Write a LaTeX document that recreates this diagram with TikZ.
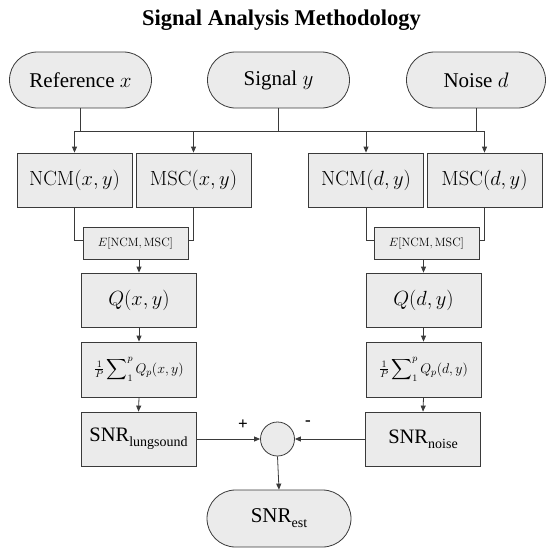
\RequirePackage{fix-cm}
\documentclass[tikz,border=0pt]{standalone}
\usepackage{exscale}
\usepackage[no-math]{fontspec}
\setmainfont{Liberation Serif}
\newfontfamily\tnr{Liberation Serif}
\newcommand{\lowsub}[1]{\raisebox{-5pt}{\fontsize{14}{16}\selectfont #1}}
\usetikzlibrary{shapes.misc,arrows.meta}
\definecolor{boxfill}{HTML}{EBEBEB}
\definecolor{linec}{HTML}{3A3A3A}
\begin{document}
\begin{tikzpicture}[x=1pt,y=-1pt,
  box/.style={draw=linec, fill=boxfill, line width=0.8pt, rectangle,
    minimum width=115pt, minimum height=54pt, inner sep=0pt,
    font=\fontsize{20.5}{24}\selectfont},
  ebox/.style={draw=linec, fill=boxfill, line width=0.8pt, rectangle,
    minimum width=105pt, minimum height=32pt, inner sep=0pt,
    font=\fontsize{12}{14}\selectfont},
  sumbox/.style={box, minimum height=55pt, font=\fontsize{14}{16}\selectfont},
  snrbox/.style={box, font=\tnr\fontsize{20.5}{24}\selectfont},
  pill/.style={draw=linec, fill=boxfill, line width=0.8pt, rounded rectangle,
    minimum width=142pt, minimum height=56pt, inner sep=0pt,
    font=\tnr\fontsize{21}{25}\selectfont},
  conn/.style={draw=linec, line width=0.8pt},
  arr/.style={conn, -{Triangle[length=6pt,width=5pt]}},
  sign/.style={font=\tnr\fontsize{17}{19}\selectfont\bfseries, inner sep=0pt}
]
\useasboundingbox (0,0) rectangle (546,549);

\node[anchor=base, font=\tnr\fontsize{22.5}{26}\selectfont\bfseries] (title) at (281.5,25) {Signal Analysis Methodology};

\node[pill] (ref) at (80.5,80) {Reference $x$};
\node[pill] (sig) at (278.5,80) {Signal $y$};
\node[pill, minimum width=139pt] (noi) at (476,80) {Noise $d$};

\node[box] (ncmx) at (74.5,180) {$\mathrm{NCM}(x,y)$};
\node[box] (mscx) at (193.5,180) {$\mathrm{MSC}(x,y)$};
\node[box] (ncmd) at (366,180) {$\mathrm{NCM}(d,y)$};
\node[box] (mscd) at (484.5,180) {$\mathrm{MSC}(d,y)$};

\node[ebox] (ex) at (135.5,243) {$E[\mathrm{NCM},\mathrm{MSC}]$};
\node[ebox] (ed) at (426.5,243) {$E[\mathrm{NCM},\mathrm{MSC}]$};

\node[box] (qx) at (139,300) {$Q(x,y)$};
\node[box] (qd) at (423.5,300) {$Q(d,y)$};

\node[sumbox] (sx) at (139,369.5) {${\textstyle\frac{1}{P}}\displaystyle\sum\nolimits_{1}^{p} Q_p(x,y)$};
\node[sumbox] (sd) at (423.5,369.5) {${\textstyle\frac{1}{P}}\displaystyle\sum\nolimits_{1}^{p} Q_p(d,y)$};

\node[snrbox] (snrl) at (138.5,439) {SNR\lowsub{lungsound}};
\node[snrbox] (snrn) at (423,439) {SNR\lowsub{noise}};

\node[circle, draw=linec, fill=boxfill, line width=0.8pt, minimum size=34pt, inner sep=0pt] (sum) at (277.5,439) {};

\node[pill, minimum width=144pt, minimum height=57pt] (est) at (279,518.5) {SNR\lowsub{est}};

\node[sign] (plus) at (243,425) {+};
\node[sign] (minus) at (308,423) {-};

% top bus
\coordinate (busy) at (0,131);
\draw[conn] (ref.south) -- (ref.south |- busy);
\draw[conn] (sig.south) -- (sig.south |- busy);
\draw[conn] (noi.south) -- (noi.south |- busy);
\draw[conn] (ncmx.north |- busy) -- (mscd.north |- busy);
\draw[arr] (ncmx.north |- busy) -- (ncmx.north);
\draw[arr] (mscx.north |- busy) -- (mscx.north);
\draw[arr] (ncmd.north |- busy) -- (ncmd.north);
\draw[arr] (mscd.north |- busy) -- (mscd.north);

% pairs into E boxes
\draw[conn] (ncmx.south) |- ([yshift=3pt]ex.west);
\draw[conn] (mscx.south) |- ([yshift=3pt]ex.east);
\draw[conn] (ncmd.south) |- ([yshift=3pt]ed.west);
\draw[conn] (mscd.south) |- ([yshift=3pt]ed.east);

% columns
\draw[arr] (ex.south -| qx.north) -- (qx.north);
\draw[arr] (qx.south) -- (sx.north);
\draw[arr] (sx.south) -- (snrl.north);
\draw[arr] (ed.south -| qd.north) -- (qd.north);
\draw[arr] (qd.south) -- (sd.north);
\draw[arr] (sd.south) -- (snrn.north);

% summation
\draw[arr] (snrl.east) -- (sum.west);
\draw[arr] (snrn.west) -- (sum.east);
\draw[arr] (sum.south) -- (est.north);
\end{tikzpicture}
\end{document}
